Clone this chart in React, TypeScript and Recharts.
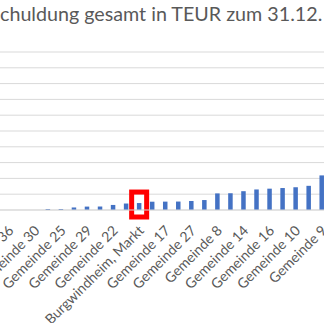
import React from "react";
import { BarChart, Bar, XAxis, YAxis, CartesianGrid } from "recharts";

// visible slice of the sorted ranking (unlabelled bars sit between labelled ones)
const gemeinden = [
  "Gemeinde 36", "", "Gemeinde 30", "", "Gemeinde 25", "", "Gemeinde 29", "",
  "Gemeinde 22", "", "Burgwindheim, Markt", "", "Gemeinde 17", "", "Gemeinde 27", "",
  "Gemeinde 8", "", "Gemeinde 14", "", "Gemeinde 16", "", "Gemeinde 10", "", "Gemeinde 9",
];
const schulden = [
  0, 0, 0, 60, 60, 160, 215, 220, 320, 410, 440, 525, 530, 535, 570, 630,
  1050, 1060, 1190, 1300, 1350, 1390, 1440, 1530, 2190,
];
const yTicks = [0, 1000, 2000, 3000, 4000, 5000, 6000, 7000, 8000, 9000, 10000];
const highlight = "Burgwindheim, Markt";

const data = gemeinden.map((name, i) => ({ name, wert: schulden[i] }));

const BarShape = (props: any) => {
  const { x, y, width, height, payload } = props;
  const bar = <rect x={x} y={y} width={width} height={height} fill="#4472C4" />;
  if (payload.name !== highlight) return bar;
  const cx = x + width / 2;
  const bottom = y + height + 7;
  const top = y - 11;
  return (
    <g>
      {bar}
      <rect x={cx - 7.5} y={top} width={15} height={bottom - top} fill="none" stroke="#FF0000" strokeWidth={5} />
    </g>
  );
};

const Tick = ({ x, y, payload }: any) => (
  <text
    x={x + 2}
    y={y + 10}
    dy="0.35em"
    transform={`rotate(-45 ${x + 2} ${y + 10})`}
    textAnchor="end"
    fill="#595959"
    fontSize={14}
    fontFamily="Lato"
  >
    {payload.value}
  </text>
);

export default function App() {
  return (
    <div style={{ position: "absolute", left: 0, top: 0, width: 324, height: 323, overflow: "hidden", background: "#fff" }}>
      <div style={{ position: "absolute", left: 0, top: 2, whiteSpace: "nowrap", fontFamily: "Lato", fontSize: 19.7, color: "#595959" }}>
        chuldung gesamt in TEUR zum 31.12.
      </div>
      <div style={{ position: "absolute", left: -10, top: 0 }}>
        <BarChart width={350} height={323} data={data} margin={{ top: 52, right: 0, bottom: 0, left: 0 }} barSize={4.5}>
          <CartesianGrid vertical={false} stroke="#d9d9d9" />
          <YAxis hide domain={[0, 10000]} ticks={yTicks} interval={0} />
          <XAxis
            dataKey="name"
            interval={0}
            height={113}
            tickLine={false}
            axisLine={{ stroke: "#d9d9d9" }}
            padding={{ left: 12.5, right: 11.5 }}
            tick={<Tick />}
          />
          <Bar dataKey="wert" isAnimationActive={false} shape={<BarShape />} />
        </BarChart>
      </div>
    </div>
  );
}
